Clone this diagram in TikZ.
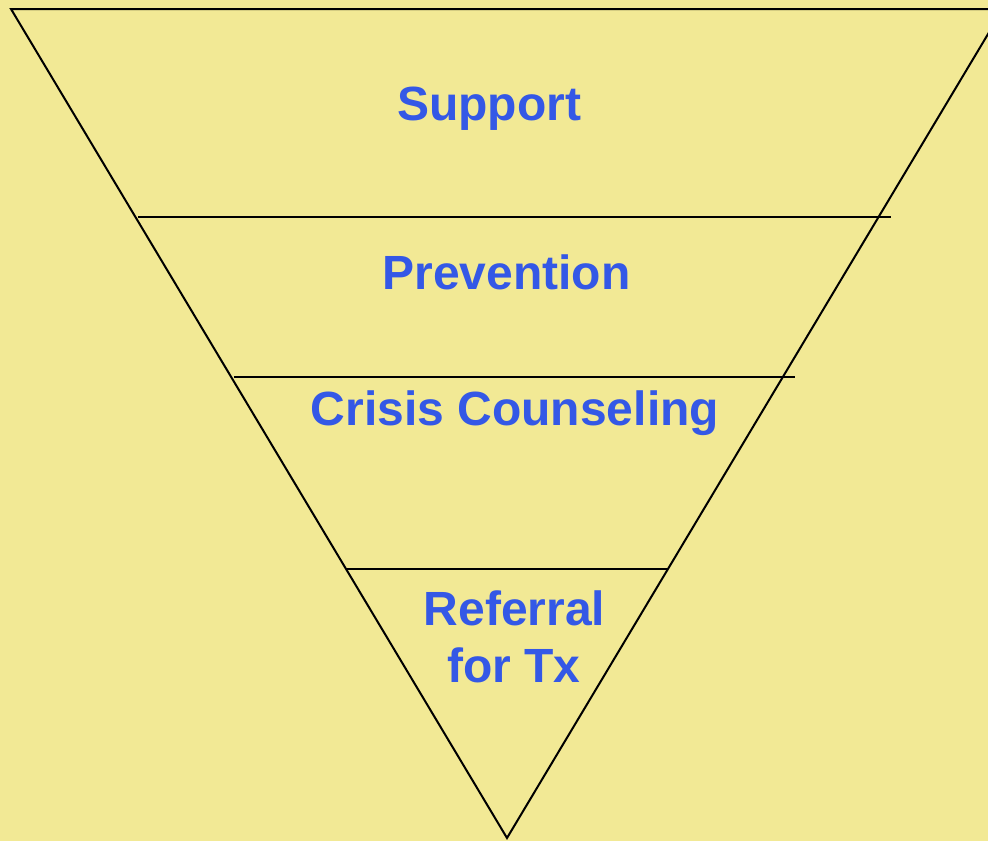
\documentclass[tikz,border=0pt]{standalone}
\usepackage{fontspec}
\setmainfont{Liberation Sans}
\definecolor{bgyellow}{RGB}{242,233,149}
\definecolor{labelblue}{RGB}{52,88,230}
\begin{document}
\begin{tikzpicture}[x=1pt,y=-1pt,
  tier/.style={line width=2pt,draw=black},
  lab/.style={anchor=base,inner sep=0pt,text=labelblue,font=\fontsize{48}{57}\selectfont\bfseries}]
\useasboundingbox (0,0) rectangle (988,841);
\fill[bgyellow] (0,0) rectangle (988,841);
\clip (0,0) rectangle (988,841);
% triangle
\coordinate (tl) at (11,9);
\coordinate (tr) at (1003,9);
\coordinate (ap) at (507,838);
\draw[tier,line join=miter] (tl) -- (tr) -- (ap) -- cycle;
% dividers
\coordinate (a1) at (138,217); \coordinate (b1) at (891,217);
\coordinate (a2) at (234,377); \coordinate (b2) at (795,377);
\coordinate (a3) at (346,569); \coordinate (b3) at (668,569);
\draw[tier] (a1) -- (b1);
\draw[tier] (a2) -- (b2);
\draw[tier] (a3) -- (b3);
% labels
\node[lab] (support) at (489,120) {Support};
\node[lab] (prevention) at (506.5,289) {Prevention};
\node[lab] (crisis) at (515,425) {Crisis Counseling};
\node[lab] (referral) at (514.5,625) {Referral};
\node[lab] (fortx) at (514,682) {for Tx};
\end{tikzpicture}
\end{document}
